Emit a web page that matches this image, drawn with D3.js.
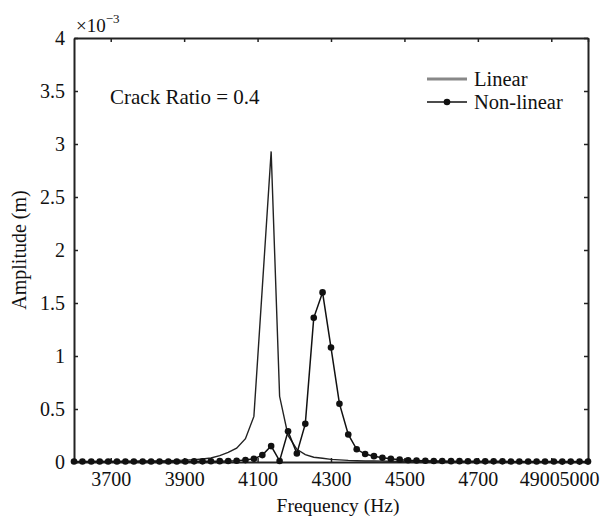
<!DOCTYPE html>
<html>
<head>
<meta charset="utf-8">
<script src="https://cdn.jsdelivr.net/npm/d3@7"></script>
<style>
    body { margin: 0; background: #fff; }
    svg { font-family: "Liberation Serif", "Times New Roman", serif; }
</style>
</head>
<body>
<script>
// frequency samples (Hz)
const frequency = [3600, 3623, 3647, 3670, 3693, 3717, 3740, 3763, 3787, 3810,
    3833, 3857, 3880, 3903, 3927, 3950, 3973, 3997, 4020, 4043,
    4067, 4090, 4113, 4137, 4160, 4183, 4207, 4230, 4253, 4277,
    4300, 4323, 4347, 4370, 4393, 4417, 4440, 4463, 4487, 4510,
    4533, 4557, 4580, 4603, 4627, 4650, 4673, 4697, 4720, 4743,
    4767, 4790, 4813, 4837, 4860, 4883, 4907, 4930, 4953, 4977, 5000];

// amplitudes in units of 1e-3 m
const linearAmp = [0.004, 0.004, 0.005, 0.005, 0.006, 0.006, 0.007, 0.008, 0.009, 0.010,
    0.011, 0.013, 0.015, 0.018, 0.022, 0.028, 0.038, 0.06, 0.09, 0.13,
    0.22, 0.43, 1.65, 2.93, 0.62, 0.25, 0.12, 0.07, 0.045, 0.035,
    0.025, 0.02, 0.015, 0.012, 0.01, 0.009, 0.008, 0.007, 0.006, 0.006,
    0.005, 0.005, 0.005, 0.004, 0.004, 0.004, 0.004, 0.003, 0.003, 0.003,
    0.003, 0.003, 0.003, 0.003, 0.002, 0.002, 0.002, 0.002, 0.002, 0.002, 0.002];

const nonlinearAmp = [0.005, 0.005, 0.005, 0.005, 0.005, 0.005, 0.005, 0.005, 0.005, 0.005,
    0.005, 0.005, 0.005, 0.005, 0.006, 0.006, 0.007, 0.008, 0.01, 0.012,
    0.018, 0.03, 0.065, 0.15, 0.01, 0.29, 0.08, 0.36, 1.36, 1.60,
    1.08, 0.55, 0.26, 0.12, 0.075, 0.055, 0.04, 0.03, 0.022, 0.017,
    0.014, 0.012, 0.01, 0.009, 0.008, 0.008, 0.007, 0.007, 0.006, 0.006,
    0.006, 0.005, 0.005, 0.005, 0.005, 0.005, 0.005, 0.004, 0.004, 0.004, 0.004];

const xTicks = [3700, 3900, 4100, 4300, 4500, 4700, 4900, 5000];
const yTicks = [0, 0.5, 1, 1.5, 2, 2.5, 3, 3.5, 4];

const width = 606;
const height = 516;
const margin = { top: 38, right: 18, bottom: 54, left: 74 };
const serif = "'Liberation Serif', 'Times New Roman', serif";

const svg = d3.select("body")
    .append("svg")
    .attr("width", width)
    .attr("height", height);

const x = d3.scaleLinear()
    .domain([3600, 5000])
    .range([margin.left, width - margin.right]);

const y = d3.scaleLinear()
    .domain([0, 4])
    .range([height - margin.bottom, margin.top]);

const fmtY = d => d3.format("~g")(d);

// axes, ticks pointing inward like matlab
const bottomAxis = svg.append("g")
    .attr("transform", `translate(0,${height - margin.bottom})`)
    .call(d3.axisBottom(x).tickValues(xTicks).tickSizeInner(-4).tickSizeOuter(0).tickPadding(6).tickFormat(d3.format("d")));

const topAxis = svg.append("g")
    .attr("transform", `translate(0,${margin.top})`)
    .call(d3.axisTop(x).tickValues(xTicks).tickSizeInner(-4).tickSizeOuter(0).tickFormat(""));

const leftAxis = svg.append("g")
    .attr("transform", `translate(${margin.left},0)`)
    .call(d3.axisLeft(y).tickValues(yTicks).tickSizeInner(-4).tickSizeOuter(0).tickPadding(9).tickFormat(fmtY));

const rightAxis = svg.append("g")
    .attr("transform", `translate(${width - margin.right},0)`)
    .call(d3.axisRight(y).tickValues(yTicks).tickSizeInner(-4).tickSizeOuter(0).tickFormat(""));

[bottomAxis, topAxis, leftAxis, rightAxis].forEach(g => {
    g.attr("font-family", serif).attr("font-size", 20);
    g.select(".domain").attr("stroke", "#222").attr("stroke-width", 2);
    g.selectAll(".tick line").attr("stroke", "#222").attr("stroke-width", 1.5);
    g.selectAll(".tick text").attr("fill", "#111");
});

// the last two labels are pulled left so they butt together, as in the original
const labelShift = { 4900: -12, 5000: -9 };
bottomAxis.selectAll(".tick text")
    .attr("dy", "0.9em")
    .attr("dx", d => labelShift[d] || 0);

// scale exponent
const expo = svg.append("text")
    .attr("x", margin.left + 2)
    .attr("y", 32)
    .attr("font-family", serif)
    .attr("font-size", 19)
    .attr("fill", "#111");
expo.append("tspan").text("\u00d710");
expo.append("tspan").attr("dy", -9).attr("font-size", 13).text("\u22123");

// curves
const line = d3.line()
    .x((d, i) => x(frequency[i]))
    .y(d => y(d));

svg.append("path")
    .datum(linearAmp)
    .attr("fill", "none")
    .attr("stroke", "#222")
    .attr("stroke-width", 1.4)
    .attr("d", line);

svg.append("path")
    .datum(nonlinearAmp)
    .attr("fill", "none")
    .attr("stroke", "#111")
    .attr("stroke-width", 1.5)
    .attr("d", line);

svg.append("g")
    .selectAll("circle")
    .data(nonlinearAmp)
    .enter()
    .append("circle")
    .attr("cx", (d, i) => x(frequency[i]))
    .attr("cy", d => y(d))
    .attr("r", 3.3)
    .attr("fill", "#111");

// annotation
svg.append("text")
    .attr("x", 110)
    .attr("y", 104)
    .attr("font-family", serif)
    .attr("font-size", 21)
    .attr("fill", "#111")
    .text("Crack Ratio = 0.4");

// legend
const legend = svg.append("g").attr("font-family", serif).attr("font-size", 20.5);
legend.append("line")
    .attr("x1", 427).attr("x2", 467)
    .attr("y1", 79).attr("y2", 79)
    .attr("stroke", "#888")
    .attr("stroke-width", 3);
legend.append("text")
    .attr("x", 474).attr("y", 86)
    .attr("fill", "#111")
    .text("Linear");
legend.append("line")
    .attr("x1", 427).attr("x2", 467)
    .attr("y1", 102).attr("y2", 102)
    .attr("stroke", "#111")
    .attr("stroke-width", 1.5);
legend.append("circle")
    .attr("cx", 447).attr("cy", 102)
    .attr("r", 3.3)
    .attr("fill", "#111");
legend.append("text")
    .attr("x", 474).attr("y", 109)
    .attr("fill", "#111")
    .text("Non-linear");

// axis titles
svg.append("text")
    .attr("x", 338)
    .attr("y", 512)
    .attr("text-anchor", "middle")
    .attr("font-family", serif)
    .attr("font-size", 19.5)
    .attr("fill", "#111")
    .text("Frequency (Hz)");

svg.append("text")
    .attr("transform", `translate(26,${(margin.top + height - margin.bottom) / 2}) rotate(-90)`)
    .attr("text-anchor", "middle")
    .attr("font-family", serif)
    .attr("font-size", 20)
    .attr("fill", "#111")
    .text("Amplitude (m)");
</script>
</body>
</html>
